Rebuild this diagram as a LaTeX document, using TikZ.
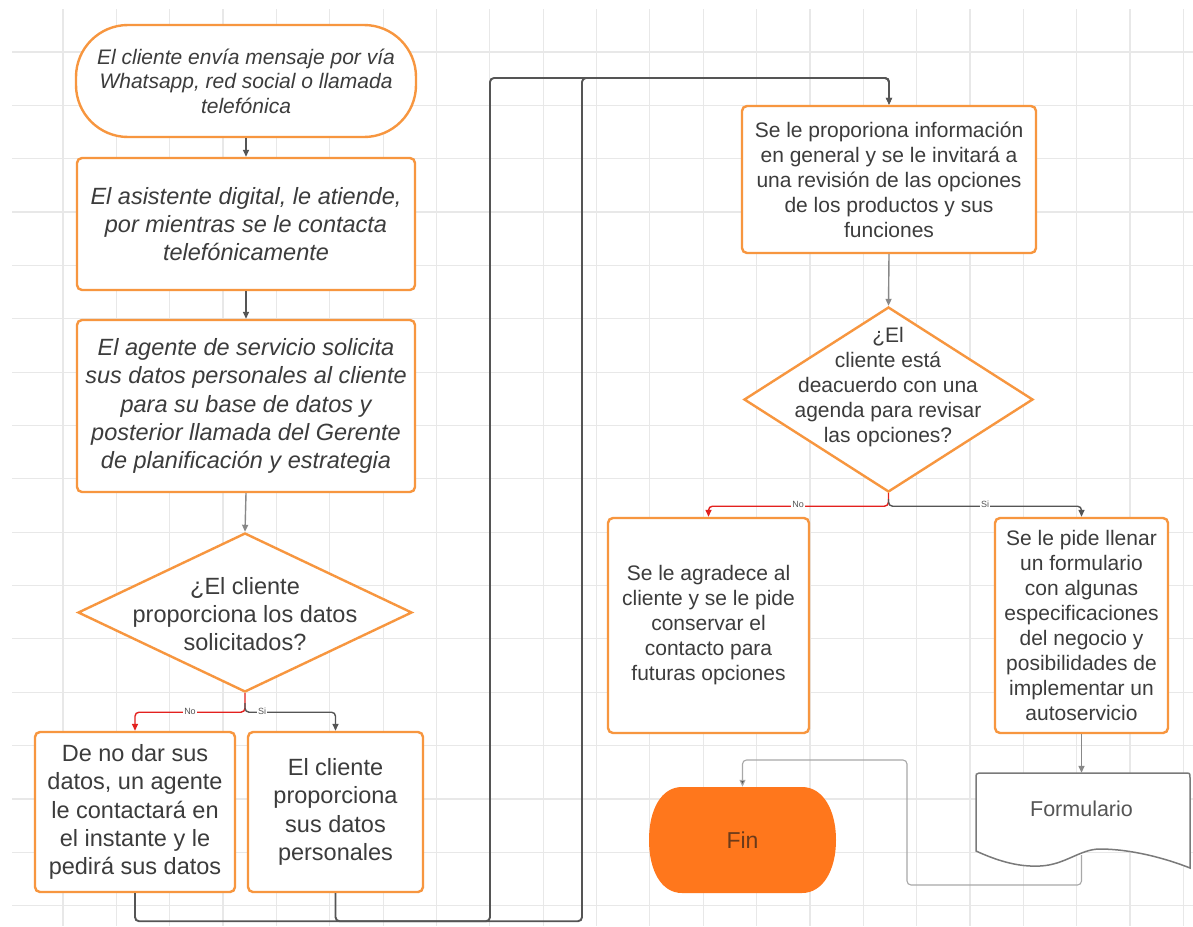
\documentclass[tikz,border=0pt]{standalone}
\usepackage{fontspec}
\setmainfont{Liberation Sans}
\usetikzlibrary{arrows.meta,shapes.geometric}
\definecolor{orng}{HTML}{F7963F}
\definecolor{txtc}{HTML}{3C3C3C}
\definecolor{gridc}{HTML}{E8E8E8}
\definecolor{conc}{HTML}{555555}
\definecolor{redc}{HTML}{E3211E}
\definecolor{finc}{HTML}{FF771C}
\definecolor{fintxt}{HTML}{6A3A1A}
\definecolor{docc}{HTML}{7A7A7A}
\definecolor{lightc}{HTML}{A8A8A8}
\begin{document}
\begin{tikzpicture}[x=1pt,y=-1pt,
  box/.style={draw=orng, line width=2.4pt, rounded corners=5pt, fill=white, inner sep=0pt, align=center, text=txtc},
  stadium/.style={box, rounded corners=52pt},
  dia/.style={draw=orng, line width=2.4pt, fill=white, diamond, inner sep=0pt},
  txtn/.style={inner sep=0pt, align=center, text=txtc},
  fbig/.style={font=\fontsize{23.5}{28.3}\selectfont},
  fbigi/.style={font=\fontsize{23.5}{28.2}\selectfont\itshape},
  fstart/.style={font=\fontsize{21}{24.5}\selectfont\itshape},
  fmid/.style={font=\fontsize{21}{25}\selectfont},
  conn/.style={draw=conc, line width=1.4pt, rounded corners=4pt, -{Triangle[length=7pt,width=6pt]}},
  bigconn/.style={conn, line width=1.9pt},
  redconn/.style={conn, draw=redc, -{Triangle[length=7pt,width=6pt,fill=redc]}},
  thinconn/.style={conn, draw=lightc, line width=1.1pt, -{Triangle[length=7pt,width=6pt,fill=conc]}},
  lbl/.style={inner sep=0.8pt, fill=white, text=conc, font=\fontsize{9}{9}\selectfont},
  gridline/.style={draw=gridc, line width=1.2pt}
]
\useasboundingbox (0,0) rectangle (1193,926);
\fill[white] (0,0) rectangle (1193,926);
% grid
\foreach \i in {0,...,21} \draw[gridline] ({63+53.35*\i},9) -- ({63+53.35*\i},926);
\foreach \j in {0,...,16} \draw[gridline] (12,{52+53.35*\j}) -- (1193,{52+53.35*\j});

% left column
\node[stadium, fstart, minimum width=340pt, minimum height=112pt] (s) at (246,81)
  {El cliente envía mensaje por vía\\Whatsapp, red social o llamada\\telefónica};
\node[box, fbigi, minimum width=338pt, minimum height=132pt] (b2) at (246,224)
  {El asistente digital, le atiende,\\por mientras se le contacta\\telefónicamente};
\node[box, fbigi, minimum width=338pt, minimum height=172pt] (b3) at (246,406)
  {El agente de servicio solicita\\sus datos personales al cliente\\para su base de datos y\\posterior llamada del Gerente\\de planificación y estrategia};
\node[dia, minimum width=334pt, minimum height=159pt] (d1) at (245,612.5) {};
\node[txtn, fbig] (d1t) at (245,614) {¿El cliente\\proporciona los datos\\solicitados?};
\node[box, fbig, minimum width=200pt, minimum height=160pt] (b5) at (135,812)
  {De no dar sus\\datos, un agente\\le contactará en\\el instante y le\\pedirá sus datos};
\node[box, fbig, minimum width=175pt, minimum height=160pt] (b6) at (335.5,812)
  {El cliente\\proporciona\\sus datos\\personales};

% right column
\node[box, fmid, minimum width=294pt, minimum height=147pt] (b7) at (889,179.5)
  {Se le proporiona información\\en general y se le invitará a\\una revisión de las opciones\\de los productos y sus\\funciones};
\node[dia, minimum width=289pt, minimum height=185pt] (d2) at (888.5,399.5) {};
\node[txtn, fmid] (d2t) at (888,387) {¿El\\cliente está\\deacuerdo con una\\agenda para revisar\\las opciones?};
\node[box, fmid, minimum width=201pt, minimum height=215pt] (b8) at (708.5,625.5)
  {Se le agradece al\\cliente y se le pide\\conservar el\\contacto para\\futuras opciones};
\node[box, fmid, minimum width=173pt, minimum height=215pt] (b9) at (1081.5,625.5)
  {Se le pide llenar\\un formulario\\con algunas\\especificaciones\\del negocio y\\posibilidades de\\implementar un\\autoservicio};

% Fin
\fill[finc] (682,787) -- (802,787) .. controls (823,787) and (836,810) .. (836,840)
  .. controls (836,870) and (823,893) .. (802,893) -- (682,893)
  .. controls (661,893) and (649,870) .. (649,840)
  .. controls (649,810) and (661,787) .. (682,787) -- cycle;
\node[txtn, text=fintxt, font=\fontsize{23}{26}\selectfont, minimum width=187pt, minimum height=106pt] (fin) at (742.5,840) {Fin};

% Formulario document
\draw[docc, line width=1.5pt, fill=white] (976,851) -- (976,777) .. controls (976,774) .. (979,773) -- (1185,773)
  .. controls (1190,773) .. (1190,778) -- (1190,868)
  .. controls (1165,858) and (1130,849) .. (1100,849)
  .. controls (1080,849) and (1065,865) .. (1040,866)
  .. controls (1020,867) and (1000,862) .. (976,851) -- cycle;
\node[txtn, text=conc, font=\fontsize{21.5}{24}\selectfont, minimum width=214pt, minimum height=72pt] (form) at (1081.5,809) {Formulario};
\coordinate (formb) at (1081.5,855);

% connectors
\draw[conn] (s.south) -- (b2.north);
\draw[conn] (b2.south) -- (b3.north);
\draw[conn, draw=conc!70] (b3.south) -- (d1.north);
\draw[redconn] (d1.south) -- ++(0,19) -| (b5.north);
\draw[conn, draw=conc] (d1.south) ++(0,10) -- ++(0,9) -| (b6.north);
\node[lbl] (lno1) at (190,711) {No};
\node[lbl] (lsi1) at (262,711) {Si};

\coordinate (rt) at (582,78);
\coordinate (lt) at (490,78);
\draw[bigconn] (b5.south) -- ++(0,28) -| (rt) -| (b7.north);
\draw[bigconn] (b6.south) -- ++(0,28) -| (lt) -| (b7.north);

\draw[conn, draw=conc!70] (b7.south) -- (d2.north);
\draw[redconn] (d2.south) -- ++(0,13) -| (b8.north);
\draw[conn] (d2.south) ++(0,6) -- ++(0,7) -| (b9.north);
\node[lbl] (lno2) at (798,504) {No};
\node[lbl] (lsi2) at (985,504) {Si};

\draw[conn, draw=conc!70] (b9.south) -- (form.north);
\coordinate (c1) at (907,885);
\coordinate (c2) at (907,760);
\draw[thinconn] (formb) |- (c1) -- (c2) -| (fin.north);
\end{tikzpicture}
\end{document}
